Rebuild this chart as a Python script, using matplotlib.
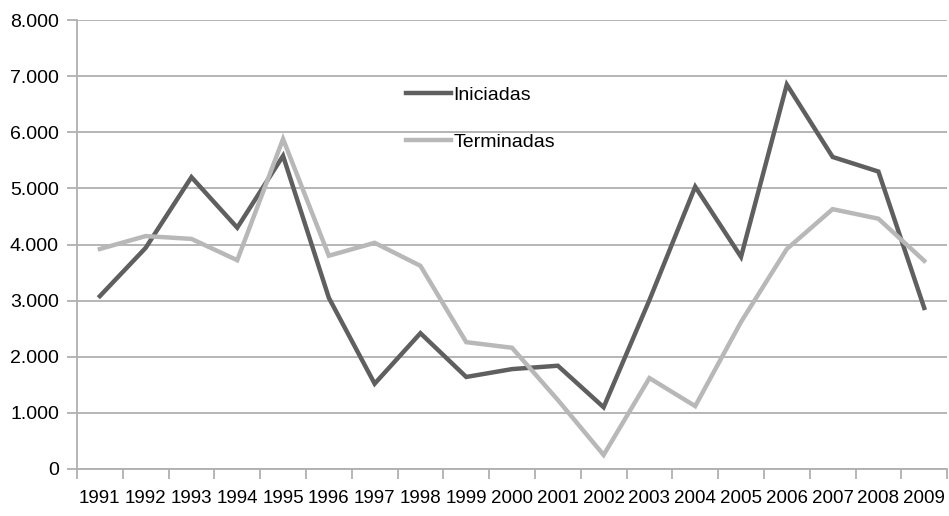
import numpy as np
import matplotlib
matplotlib.use('Agg')
import matplotlib.pyplot as plt
from matplotlib.ticker import FuncFormatter

years = [str(y) for y in range(1991, 2010)]
iniciadas = [3080, 3940, 5200, 4300, 5580, 3050, 1520, 2420, 1640, 1780,
             1840, 1100, 3010, 5030, 3780, 6850, 5560, 5300, 2870]
terminadas = [3920, 4150, 4100, 3720, 5880, 3800, 4030, 3620, 2260, 2160,
              1230, 250, 1620, 1120, 2620, 3920, 4630, 4460, 3710]

plt.rcParams['font.family'] = ['Liberation Sans', 'DejaVu Sans']

fig = plt.figure(figsize=(9.49, 5.16), dpi=100)
ax = fig.add_axes([0.0811, 0.0911, 0.9169, 0.8701])

x = np.arange(len(years))
ax.plot(x, iniciadas, color='#5f5f5f', lw=3.2, label='Iniciadas', solid_joinstyle='miter')
ax.plot(x, terminadas, color='#b8b8b8', lw=3.2, label='Terminadas', solid_joinstyle='miter')

ax.set_xlim(-0.5, len(years) - 0.5)
ax.set_ylim(0, 8000)
ax.set_yticks(range(0, 8001, 1000))
ax.yaxis.set_major_formatter(FuncFormatter(lambda v, p: '{:,.0f}'.format(v).replace(',', '.')))
ax.grid(axis='y', color='#b0b0b0', lw=1.3)
ax.set_axisbelow(True)

ax.set_xticks(x)
ax.set_xticklabels(years, fontsize=13.5)
ax.set_xticks(np.arange(-0.5, len(years)), minor=True)
ax.tick_params(axis='x', which='major', length=0, pad=15)
ax.tick_params(axis='x', which='minor', length=7, color='#b0b0b0', width=1.3)
ax.tick_params(axis='y', length=7, color='#b0b0b0', width=1.3, labelsize=14, pad=6)

for s in ['top', 'right']:
    ax.spines[s].set_visible(False)
for s in ['left', 'bottom']:
    ax.spines[s].set_color('#b0b0b0')
    ax.spines[s].set_linewidth(1.3)

ax.legend(loc='upper left', bbox_to_anchor=(0.358, 0.891), frameon=False,
          fontsize=14, handlelength=2.3, handletextpad=0.15, labelspacing=1.5)

plt.savefig('out.png')
